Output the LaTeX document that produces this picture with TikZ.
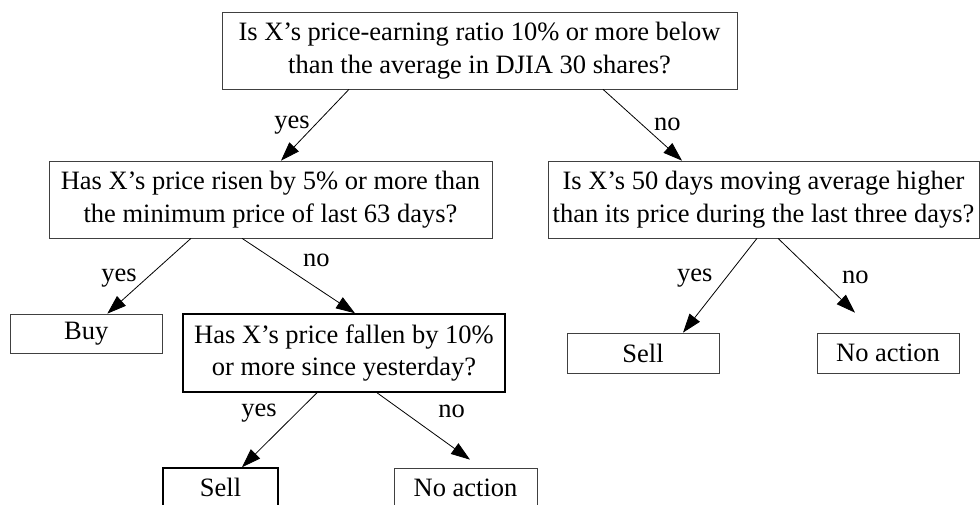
\documentclass[tikz,border=0pt]{standalone}
\usepackage{fontspec}
\setmainfont{Liberation Serif}
\usetikzlibrary{positioning}
\usetikzlibrary{arrows.meta}

\begin{document}
\begin{tikzpicture}[x=1pt,y=1pt,>={Triangle[length=19pt,width=13pt]},
    question/.style={draw=black!75,line width=0.7pt,align=center,inner sep=0pt,
      minimum height=77pt,font=\fontsize{26.5}{32.5}\selectfont},
    answer/.style={draw=black!75,line width=0.7pt,inner sep=0pt,
      minimum height=39pt,font=\fontsize{26.5}{32.5}\selectfont},
    heavy/.style={draw=black,line width=1.5pt},
    lbl/.style={inner sep=0pt,font=\fontsize{26.5}{32.5}\selectfont}]
  \useasboundingbox (0,0) rectangle (980,504);
  \node[question,minimum width=515pt] (PE)     at (479.5,453.5) {Is X's price-earning ratio 10\% or more below\\than the average in DJIA 30 shares?};
  \node[question,minimum width=443pt] (Rise)   at (270.5,304.5) {Has X's price risen by 5\% or more than\\the minimum price of last 63 days?};
  \node[question,minimum width=431pt] (MovAvg) at (763.5,304.5) {Is X's 50 days moving average higher\\than its price during the last three days?};
  \node[answer,minimum width=152pt]   (Buy)    at (86.3,170.5)  {Buy};
  \node[question,heavy,minimum width=322pt,minimum height=78pt] (Fall) at (344,151) {Has X's price fallen by 10\%\\or more since yesterday?};
  \node[answer,heavy,minimum width=115pt] (SellA) at (220.5,16.5) {Sell};
  \node[answer,minimum width=143pt]   (NoneA)  at (465.5,16.5)  {No action};
  \node[answer,minimum width=152pt,minimum height=40pt] (SellB) at (643,151) {Sell};
  \node[answer,minimum width=142pt,minimum height=40pt] (NoneB) at (888,151) {No action};

  \path[->,line width=0.8pt]
    ([xshift=-130.5pt]PE.south)  edge node[lbl,pos=0.5,left=5pt]    {yes} ([xshift=10.5pt]Rise.north)
    ([xshift=123.5pt]PE.south)   edge node[lbl,pos=0.49,right=12pt] {no}  ([xshift=-81.5pt]MovAvg.north)
    ([xshift=-79.5pt]Rise.south) edge node[lbl,pos=0.53,left=9.5pt] {yes} ([xshift=21pt]Buy.north)
    ([xshift=-28.5pt]Rise.south) edge node[lbl,pos=0.29,right=28pt] {no}  ([xshift=11pt]Fall.north)
    ([xshift=-27pt]Fall.south)   edge node[lbl,pos=0.28,left=19pt]  {yes} ([xshift=21.5pt]SellA.north)
    ([xshift=33pt]Fall.south)    edge node[lbl,pos=0.28,right=35pt] {no}  ([xshift=4.5pt,yshift=8pt]NoneA.north)
    ([xshift=-6.5pt]MovAvg.south) edge node[lbl,pos=0.42,left=13pt] {yes} ([xshift=40pt]SellB.north)
    ([xshift=14.5pt]MovAvg.south) edge node[lbl,pos=0.53,right=23pt] {no} ([xshift=-33pt,yshift=20pt]NoneB.north);
\end{tikzpicture}
\end{document}
